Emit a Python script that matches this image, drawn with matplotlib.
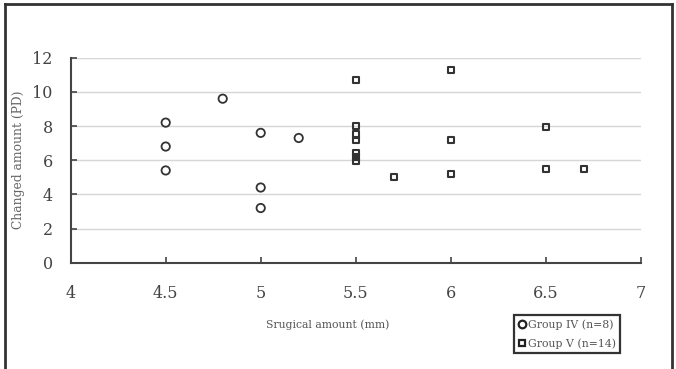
import matplotlib
matplotlib.use("Agg")
import matplotlib.pyplot as plt
from matplotlib.lines import Line2D

# Group IV (circles)
g4_x = [4.5, 4.5, 4.5, 4.8, 5.0, 5.0, 5.0, 5.2]
g4_y = [8.2, 6.8, 5.4, 9.6, 7.6, 4.4, 3.2, 7.3]

# Group V (squares)
g5_x = [5.5, 5.5, 5.5, 5.5, 5.5, 5.5, 5.5, 5.7, 6.0, 6.0, 6.0, 6.5, 6.5, 6.7]
g5_y = [10.7, 8.0, 7.5, 7.2, 6.4, 6.2, 5.95, 5.0, 11.3, 7.2, 5.2, 7.95, 5.5, 5.5]

x_ticks = [4, 4.5, 5, 5.5, 6, 6.5, 7]
x_labels = ["4", "4.5", "5", "5.5", "6", "6.5", "7"]
y_ticks = [0, 2, 4, 6, 8, 10, 12]

W, H = 676, 369
fig = plt.figure(figsize=(W / 100, H / 100), dpi=100)
fig.patch.set_facecolor("white")

ax = fig.add_axes([70.7 / W, 1 - 262.7 / H, 570 / W, 205 / H])
ax.set_xlim(4, 7)
ax.set_ylim(0, 12)

for y in y_ticks[1:]:
    ax.axhline(y, color="#d6d6d6", lw=1.0, zorder=0)

ax.scatter(g4_x, g4_y, s=36, marker="o", facecolors="none",
           edgecolors="#333333", linewidths=1.3, zorder=3)
ax.scatter(g5_x, g5_y, s=20, marker="s", facecolors="none",
           edgecolors="#333333", linewidths=1.5, zorder=3)

for side in ["top", "right"]:
    ax.spines[side].set_visible(False)
for side in ["left", "bottom"]:
    ax.spines[side].set_color("#444444")
    ax.spines[side].set_linewidth(1.5)

ax.set_xticks(x_ticks)
ax.set_xticklabels(x_labels)
ax.set_yticks(y_ticks)
ax.tick_params(axis="both", direction="in", length=4, width=1.2, color="#444444",
               labelsize=11.5, labelcolor="#444444")
ax.tick_params(axis="y", pad=13)
ax.tick_params(axis="x", pad=16)
for lab in ax.get_xticklabels() + ax.get_yticklabels():
    lab.set_family("DejaVu Serif")

ax.set_ylabel("Changed amount (PD)", family="DejaVu Serif", fontsize=8.8, color="#666666")
ax.yaxis.set_label_coords(-0.08, 0.5)

fig.text(328 / W, 1 - 325 / H, "Srugical amount (mm)", family="DejaVu Serif",
         fontsize=7.8, color="#555555", ha="center", va="center")

handles = [
    Line2D([], [], ls="none", marker="o", ms=5.5, mfc="none", mec="#222222", mew=1.6),
    Line2D([], [], ls="none", marker="s", ms=4.5, mfc="none", mec="#222222", mew=1.6),
]
leg = fig.legend(handles, ["Group IV (n=8)", "Group V (n=14)"],
                 loc="upper left", bbox_to_anchor=(514 / W, 1 - 315 / H),
                 prop={"family": "DejaVu Serif", "size": 7.8}, handlelength=0.7,
                 handletextpad=0.2, labelspacing=0.8, borderpad=0.4,
                 borderaxespad=0, fancybox=False, framealpha=1)
leg.get_frame().set_edgecolor("#333333")
leg.get_frame().set_linewidth(1.6)
for t in leg.get_texts():
    t.set_color("#555555")

# outer frame of the figure
fig.add_artist(Line2D([5 / W, 5 / W], [0, 1 - 4 / H], color="#333333", lw=2))
fig.add_artist(Line2D([5 / W, 671.5 / W], [1 - 4 / H, 1 - 4 / H], color="#333333", lw=2))
fig.add_artist(Line2D([671.5 / W, 671.5 / W], [0, 1 - 4 / H], color="#333333", lw=2))

fig.savefig("out.png", dpi=100)
